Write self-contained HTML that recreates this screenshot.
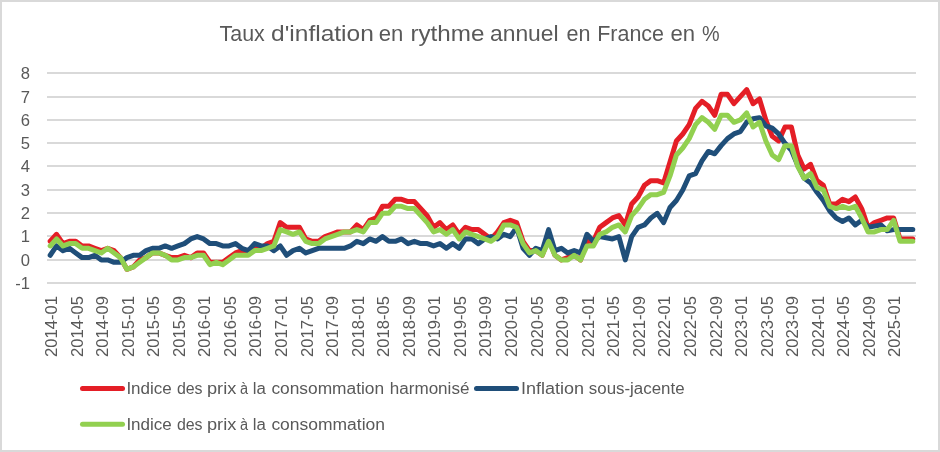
<!DOCTYPE html><html><head><meta charset="utf-8"><style>
html,body{margin:0;padding:0;background:#fff;width:940px;height:452px;overflow:hidden}
svg{display:block;will-change:transform}text{font-family:"Liberation Sans",sans-serif;fill:#595959}
</style></head><body>
<svg width="940" height="452" viewBox="0 0 940 452">
<rect x="0" y="0" width="940" height="452" fill="#fff"/>
<rect x="1" y="1" width="938" height="450" fill="none" stroke="#d9d9d9" stroke-width="2"/>
<rect x="47" y="72" width="869" height="2" fill="#d9d9d9"/>
<rect x="47" y="96" width="869" height="2" fill="#d9d9d9"/>
<rect x="47" y="119" width="869" height="2" fill="#d9d9d9"/>
<rect x="47" y="142" width="869" height="2" fill="#d9d9d9"/>
<rect x="47" y="165" width="869" height="2" fill="#d9d9d9"/>
<rect x="47" y="189" width="869" height="2" fill="#d9d9d9"/>
<rect x="47" y="212" width="869" height="2" fill="#d9d9d9"/>
<rect x="47" y="235" width="869" height="2" fill="#d9d9d9"/>
<rect x="47" y="259" width="869" height="2" fill="#d9d9d9"/>
<rect x="47" y="282" width="869" height="2" fill="#d9d9d9"/>
<text transform="translate(0,40.6) scale(1,1)" x="219.6" y="0" font-size="22.3" textLength="45.2" lengthAdjust="spacingAndGlyphs">Taux</text>
<text transform="translate(0,40.6) scale(1,1)" x="271.0" y="0" font-size="22.3" textLength="102.8" lengthAdjust="spacingAndGlyphs">d&#39;inflation</text>
<text transform="translate(0,40.6) scale(1,1)" x="378.8" y="0" font-size="22.3" textLength="24.6" lengthAdjust="spacingAndGlyphs">en</text>
<text transform="translate(0,40.6) scale(1,1)" x="410.4" y="0" font-size="22.3" textLength="74.0" lengthAdjust="spacingAndGlyphs">rythme</text>
<text transform="translate(0,40.6) scale(1,1)" x="490.0" y="0" font-size="22.3" textLength="68.6" lengthAdjust="spacingAndGlyphs">annuel</text>
<text transform="translate(0,40.6) scale(1,1)" x="566.4" y="0" font-size="22.3" textLength="24.0" lengthAdjust="spacingAndGlyphs">en</text>
<text transform="translate(0,40.6) scale(1,1)" x="597.2" y="0" font-size="22.3" textLength="66.8" lengthAdjust="spacingAndGlyphs">France</text>
<text transform="translate(0,40.6) scale(1,1)" x="670.4" y="0" font-size="22.3" textLength="24.6" lengthAdjust="spacingAndGlyphs">en</text>
<text transform="translate(0,40.6) scale(1,1)" x="702.0" y="0" font-size="22.3" textLength="17.6" lengthAdjust="spacingAndGlyphs">%</text>
<text x="30" y="289.0" font-size="16.6" text-anchor="end">-1</text>
<text x="30" y="266.0" font-size="16.6" text-anchor="end">0</text>
<text x="30" y="242.0" font-size="16.6" text-anchor="end">1</text>
<text x="30" y="219.0" font-size="16.6" text-anchor="end">2</text>
<text x="30" y="196.0" font-size="16.6" text-anchor="end">3</text>
<text x="30" y="172.0" font-size="16.6" text-anchor="end">4</text>
<text x="30" y="149.0" font-size="16.6" text-anchor="end">5</text>
<text x="30" y="126.0" font-size="16.6" text-anchor="end">6</text>
<text x="30" y="103.0" font-size="16.6" text-anchor="end">7</text>
<text x="30" y="79.0" font-size="16.6" text-anchor="end">8</text>
<text transform="translate(56.99,296.0) rotate(-90)" font-size="16.6" text-anchor="end">2014-01</text>
<text transform="translate(82.55,296.0) rotate(-90)" font-size="16.6" text-anchor="end">2014-05</text>
<text transform="translate(108.11,296.0) rotate(-90)" font-size="16.6" text-anchor="end">2014-09</text>
<text transform="translate(133.67,296.0) rotate(-90)" font-size="16.6" text-anchor="end">2015-01</text>
<text transform="translate(159.23,296.0) rotate(-90)" font-size="16.6" text-anchor="end">2015-05</text>
<text transform="translate(184.79,296.0) rotate(-90)" font-size="16.6" text-anchor="end">2015-09</text>
<text transform="translate(210.35,296.0) rotate(-90)" font-size="16.6" text-anchor="end">2016-01</text>
<text transform="translate(235.91,296.0) rotate(-90)" font-size="16.6" text-anchor="end">2016-05</text>
<text transform="translate(261.47,296.0) rotate(-90)" font-size="16.6" text-anchor="end">2016-09</text>
<text transform="translate(287.02,296.0) rotate(-90)" font-size="16.6" text-anchor="end">2017-01</text>
<text transform="translate(312.58,296.0) rotate(-90)" font-size="16.6" text-anchor="end">2017-05</text>
<text transform="translate(338.14,296.0) rotate(-90)" font-size="16.6" text-anchor="end">2017-09</text>
<text transform="translate(363.70,296.0) rotate(-90)" font-size="16.6" text-anchor="end">2018-01</text>
<text transform="translate(389.26,296.0) rotate(-90)" font-size="16.6" text-anchor="end">2018-05</text>
<text transform="translate(414.82,296.0) rotate(-90)" font-size="16.6" text-anchor="end">2018-09</text>
<text transform="translate(440.38,296.0) rotate(-90)" font-size="16.6" text-anchor="end">2019-01</text>
<text transform="translate(465.94,296.0) rotate(-90)" font-size="16.6" text-anchor="end">2019-05</text>
<text transform="translate(491.49,296.0) rotate(-90)" font-size="16.6" text-anchor="end">2019-09</text>
<text transform="translate(517.05,296.0) rotate(-90)" font-size="16.6" text-anchor="end">2020-01</text>
<text transform="translate(542.61,296.0) rotate(-90)" font-size="16.6" text-anchor="end">2020-05</text>
<text transform="translate(568.17,296.0) rotate(-90)" font-size="16.6" text-anchor="end">2020-09</text>
<text transform="translate(593.73,296.0) rotate(-90)" font-size="16.6" text-anchor="end">2021-01</text>
<text transform="translate(619.29,296.0) rotate(-90)" font-size="16.6" text-anchor="end">2021-05</text>
<text transform="translate(644.85,296.0) rotate(-90)" font-size="16.6" text-anchor="end">2021-09</text>
<text transform="translate(670.41,296.0) rotate(-90)" font-size="16.6" text-anchor="end">2022-01</text>
<text transform="translate(695.97,296.0) rotate(-90)" font-size="16.6" text-anchor="end">2022-05</text>
<text transform="translate(721.52,296.0) rotate(-90)" font-size="16.6" text-anchor="end">2022-09</text>
<text transform="translate(747.08,296.0) rotate(-90)" font-size="16.6" text-anchor="end">2023-01</text>
<text transform="translate(772.64,296.0) rotate(-90)" font-size="16.6" text-anchor="end">2023-05</text>
<text transform="translate(798.20,296.0) rotate(-90)" font-size="16.6" text-anchor="end">2023-09</text>
<text transform="translate(823.76,296.0) rotate(-90)" font-size="16.6" text-anchor="end">2024-01</text>
<text transform="translate(849.32,296.0) rotate(-90)" font-size="16.6" text-anchor="end">2024-05</text>
<text transform="translate(874.88,296.0) rotate(-90)" font-size="16.6" text-anchor="end">2024-09</text>
<text transform="translate(900.44,296.0) rotate(-90)" font-size="16.6" text-anchor="end">2025-01</text>
<polyline points="50.19,241.29 56.58,234.29 62.97,243.62 69.36,241.29 75.75,241.29 82.14,245.95 88.53,245.95 94.92,248.28 101.31,250.62 107.70,248.28 114.09,250.62 120.48,257.62 126.87,269.28 133.26,266.95 139.65,259.95 146.04,257.62 152.43,252.95 158.82,252.95 165.21,255.28 171.60,257.62 177.99,257.62 184.38,255.28 190.77,257.62 197.16,252.95 203.55,252.95 209.94,262.28 216.33,262.28 222.72,262.28 229.11,257.62 235.50,252.95 241.89,250.62 248.28,250.62 254.67,248.28 261.06,248.28 267.44,243.62 273.83,241.29 280.22,222.62 286.61,227.29 293.00,227.29 299.39,227.29 305.78,238.95 312.17,241.29 318.56,241.29 324.95,236.62 331.34,234.29 337.73,231.95 344.12,231.95 350.51,231.95 356.90,224.95 363.29,229.62 369.68,220.29 376.07,217.96 382.46,206.29 388.85,206.29 395.24,199.29 401.63,199.29 408.02,201.62 414.41,201.62 420.80,208.62 427.19,215.62 433.58,227.29 439.97,222.62 446.36,229.62 452.75,224.95 459.14,234.29 465.53,227.29 471.92,229.62 478.31,229.62 484.69,234.29 491.08,238.95 497.47,231.95 503.86,222.62 510.25,220.29 516.64,222.62 523.03,241.29 529.42,250.62 535.81,250.62 542.20,255.28 548.59,238.95 554.98,255.28 561.37,259.95 567.76,257.62 574.15,255.28 580.54,259.95 586.93,241.29 593.32,241.29 599.71,227.29 606.10,222.62 612.49,217.96 618.88,215.62 625.27,224.95 631.66,203.96 638.05,196.96 644.44,185.29 650.83,180.63 657.22,180.63 663.61,182.96 670.00,161.96 676.39,140.97 682.78,133.97 689.17,124.64 695.56,108.31 701.94,101.31 708.33,105.97 714.72,115.30 721.11,94.31 727.50,94.31 733.89,103.64 740.28,96.64 746.67,89.64 753.06,103.64 759.45,98.97 765.84,119.97 772.23,136.30 778.62,140.97 785.01,126.97 791.40,126.97 797.79,154.97 804.18,168.96 810.57,164.30 816.96,180.63 823.35,185.29 829.74,203.96 836.13,203.96 842.52,199.29 848.91,201.62 855.30,196.96 861.69,208.62 868.08,227.29 874.47,222.62 880.86,220.29 887.25,217.96 893.64,217.96 900.03,238.95 906.42,238.95 912.81,238.95" fill="none" stroke="#e41e26" stroke-width="5" stroke-linejoin="round" stroke-linecap="round"/>
<polyline points="50.19,255.28 56.58,245.95 62.97,250.62 69.36,248.28 75.75,252.95 82.14,257.62 88.53,257.62 94.92,255.28 101.31,259.95 107.70,259.95 114.09,262.28 120.48,262.28 126.87,257.62 133.26,255.28 139.65,255.28 146.04,250.62 152.43,248.28 158.82,248.28 165.21,245.95 171.60,248.28 177.99,245.95 184.38,243.62 190.77,238.95 197.16,236.62 203.55,238.95 209.94,243.62 216.33,243.62 222.72,245.95 229.11,245.95 235.50,243.62 241.89,248.28 248.28,250.62 254.67,243.62 261.06,245.95 267.44,245.95 273.83,250.62 280.22,245.95 286.61,255.28 293.00,250.62 299.39,248.28 305.78,252.95 312.17,250.62 318.56,248.28 324.95,248.28 331.34,248.28 337.73,248.28 344.12,248.28 350.51,245.95 356.90,241.29 363.29,243.62 369.68,238.95 376.07,241.29 382.46,236.62 388.85,241.29 395.24,241.29 401.63,238.95 408.02,243.62 414.41,241.29 420.80,243.62 427.19,243.62 433.58,245.95 439.97,243.62 446.36,248.28 452.75,243.62 459.14,248.28 465.53,238.95 471.92,238.95 478.31,243.62 484.69,238.95 491.08,236.62 497.47,238.95 503.86,234.29 510.25,236.62 516.64,227.29 523.03,248.28 529.42,255.28 535.81,248.28 542.20,250.62 548.59,229.62 554.98,250.62 561.37,248.28 567.76,252.95 574.15,250.62 580.54,252.95 586.93,234.29 593.32,241.29 599.71,236.62 606.10,237.79 612.49,238.95 618.88,236.62 625.27,259.95 631.66,236.62 638.05,227.29 644.44,224.95 650.83,217.96 657.22,213.29 663.61,222.62 670.00,207.46 676.39,200.46 682.78,189.96 689.17,175.96 695.56,173.63 701.94,160.80 708.33,151.47 714.72,153.80 721.11,145.63 727.50,138.63 733.89,133.97 740.28,131.63 746.67,122.30 753.06,118.80 759.45,117.64 765.84,125.80 772.23,128.14 778.62,133.97 785.01,143.30 791.40,150.30 797.79,165.46 804.18,178.29 810.57,182.96 816.96,192.29 823.35,200.46 829.74,210.96 836.13,217.96 842.52,221.46 848.91,217.96 855.30,224.95 861.69,220.29 868.08,227.29 874.47,226.12 880.86,224.95 887.25,230.79 893.64,229.62 900.03,229.62 906.42,229.62 912.81,229.62" fill="none" stroke="#1f4e79" stroke-width="5" stroke-linejoin="round" stroke-linecap="round"/>
<polyline points="50.19,245.95 56.58,238.95 62.97,245.95 69.36,243.62 75.75,243.62 82.14,248.28 88.53,248.28 94.92,250.62 101.31,252.95 107.70,248.28 114.09,252.95 120.48,257.62 126.87,269.28 133.26,266.95 139.65,262.28 146.04,257.62 152.43,252.95 158.82,252.95 165.21,255.28 171.60,259.95 177.99,259.95 184.38,257.62 190.77,257.62 197.16,255.28 203.55,255.28 209.94,264.62 216.33,262.28 222.72,264.62 229.11,259.95 235.50,255.28 241.89,255.28 248.28,255.28 254.67,250.62 261.06,250.62 267.44,248.28 273.83,245.95 280.22,229.62 286.61,231.95 293.00,234.29 299.39,231.95 305.78,241.29 312.17,243.62 318.56,243.62 324.95,238.95 331.34,236.62 337.73,234.29 344.12,231.95 350.51,231.95 356.90,229.62 363.29,231.95 369.68,222.62 376.07,222.62 382.46,213.29 388.85,213.29 395.24,206.29 401.63,206.29 408.02,208.62 414.41,208.62 420.80,215.62 427.19,222.62 433.58,231.95 439.97,229.62 446.36,234.29 452.75,229.62 459.14,238.95 465.53,231.95 471.92,234.29 478.31,236.62 484.69,238.95 491.08,241.29 497.47,236.62 503.86,224.95 510.25,224.95 516.64,227.29 523.03,243.62 529.42,252.95 535.81,250.62 542.20,255.28 548.59,241.29 554.98,255.28 561.37,259.95 567.76,259.95 574.15,255.28 580.54,259.95 586.93,245.95 593.32,245.95 599.71,234.29 606.10,231.95 612.49,227.29 618.88,224.95 625.27,231.95 631.66,215.62 638.05,208.62 644.44,199.29 650.83,194.63 657.22,194.63 663.61,192.29 670.00,175.96 676.39,154.97 682.78,147.97 689.17,138.63 695.56,124.64 701.94,117.64 708.33,122.30 714.72,129.30 721.11,115.30 727.50,115.30 733.89,122.30 740.28,119.97 746.67,112.97 753.06,126.97 759.45,122.30 765.84,140.97 772.23,154.97 778.62,159.63 785.01,145.63 791.40,145.63 797.79,166.63 804.18,178.29 810.57,173.63 816.96,187.63 823.35,189.96 829.74,206.29 836.13,208.62 842.52,206.29 848.91,208.62 855.30,206.29 861.69,217.96 868.08,231.95 874.47,231.95 880.86,229.62 887.25,229.62 893.64,220.29 900.03,241.29 906.42,241.29 912.81,241.29" fill="none" stroke="#92d050" stroke-width="5" stroke-linejoin="round" stroke-linecap="round"/>
<line x1="82.5" y1="388.5" x2="122.5" y2="388.5" stroke="#e41e26" stroke-width="5" stroke-linecap="round"/>
<line x1="476.5" y1="388.5" x2="516.5" y2="388.5" stroke="#1f4e79" stroke-width="5" stroke-linecap="round"/>
<line x1="82.5" y1="424.2" x2="122.5" y2="424.2" stroke="#92d050" stroke-width="5" stroke-linecap="round"/>
<text x="126.40" y="394" font-size="16" textLength="45.40" lengthAdjust="spacingAndGlyphs">Indice</text>
<text x="176.90" y="394" font-size="16" textLength="25.70" lengthAdjust="spacingAndGlyphs">des</text>
<text x="207.00" y="394" font-size="16" textLength="29.30" lengthAdjust="spacingAndGlyphs">prix</text>
<text x="240.10" y="394" font-size="16" textLength="8.10" lengthAdjust="spacingAndGlyphs">à</text>
<text x="252.70" y="394" font-size="16" textLength="13.10" lengthAdjust="spacingAndGlyphs">la</text>
<text x="271.40" y="394" font-size="16" textLength="112.70" lengthAdjust="spacingAndGlyphs">consommation</text>
<text x="389.80" y="394" font-size="16" textLength="79.60" lengthAdjust="spacingAndGlyphs">harmonisé</text>
<text x="521.10" y="394" font-size="16" textLength="63.00" lengthAdjust="spacingAndGlyphs">Inflation</text>
<text x="588.80" y="394" font-size="16" textLength="95.80" lengthAdjust="spacingAndGlyphs">sous-jacente</text>
<text x="126.40" y="429.6" font-size="16" textLength="45.40" lengthAdjust="spacingAndGlyphs">Indice</text>
<text x="176.90" y="429.6" font-size="16" textLength="25.70" lengthAdjust="spacingAndGlyphs">des</text>
<text x="207.00" y="429.6" font-size="16" textLength="29.30" lengthAdjust="spacingAndGlyphs">prix</text>
<text x="240.10" y="429.6" font-size="16" textLength="8.10" lengthAdjust="spacingAndGlyphs">à</text>
<text x="252.70" y="429.6" font-size="16" textLength="13.10" lengthAdjust="spacingAndGlyphs">la</text>
<text x="271.40" y="429.6" font-size="16" textLength="113.60" lengthAdjust="spacingAndGlyphs">consommation</text>
</svg></body></html>
